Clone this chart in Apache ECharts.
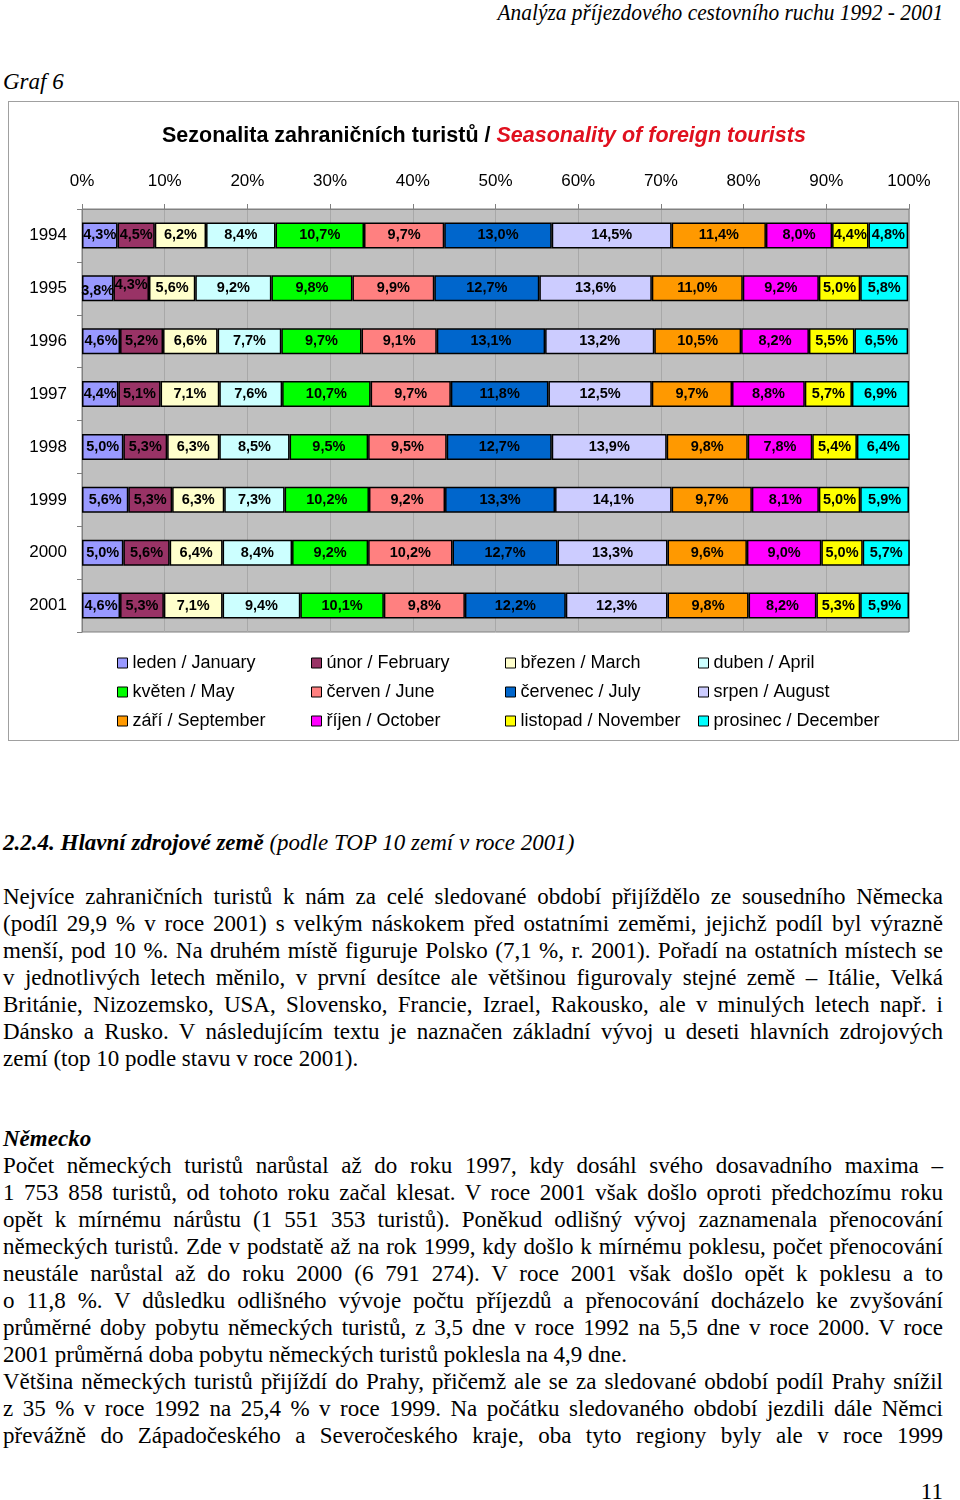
<!DOCTYPE html>
<html><head><meta charset="utf-8">
<script src="https://cdn.jsdelivr.net/npm/echarts@6/dist/echarts.min.js"></script>
<style>
html,body{margin:0;padding:0;background:#fff;}
body{width:960px;height:1500px;position:relative;overflow:hidden;font-family:"Liberation Serif","Times New Roman",serif;color:#000;}
.t{position:absolute;white-space:nowrap;font-size:23px;line-height:27px;height:27px;}
.j{left:3px;width:940px;}
#box{position:absolute;left:8px;top:101px;width:951px;height:640px;border:1px solid #a0a0a0;box-sizing:border-box;}
#chart{position:absolute;left:0;top:0;width:960px;height:760px;}
</style></head>
<body>
<div class="t" style="right:17px;top:-1px;font-style:italic;transform:scaleX(0.93);transform-origin:right center;">Analýza příjezdového cestovního ruchu 1992 - 2001</div>
<div class="t" style="left:3px;top:68px;font-style:italic;">Graf 6</div>
<div id="box"></div>
<div id="chart"></div>

<div class="t" style="left:3px;top:829px;font-style:italic;"><b>2.2.4. Hlavní zdrojové země</b> (podle TOP 10 zemí v roce 2001)</div>

<div class="t j" style="top:883px;"><span>Nejvíce zahraničních turistů k nám za celé sledované období přijíždělo ze sousedního Německa</span></div>
<div class="t j" style="top:910px;"><span>(podíl 29,9 % v roce 2001) s velkým náskokem před ostatními zeměmi, jejichž podíl byl výrazně</span></div>
<div class="t j" style="top:937px;"><span>menší, pod 10 %. Na druhém místě figuruje Polsko (7,1 %, r. 2001). Pořadí na ostatních místech se</span></div>
<div class="t j" style="top:964px;"><span>v jednotlivých letech měnilo, v první desítce ale většinou figurovaly stejné země – Itálie, Velká</span></div>
<div class="t j" style="top:991px;"><span>Británie, Nizozemsko, USA, Slovensko, Francie, Izrael, Rakousko, ale v minulých letech např. i</span></div>
<div class="t j" style="top:1018px;"><span>Dánsko a Rusko. V následujícím textu je naznačen základní vývoj u deseti hlavních zdrojových</span></div>
<div class="t" style="left:3px;top:1045px;"><span>zemí (top 10 podle stavu v roce 2001).</span></div>

<div class="t" style="left:3px;top:1125px;font-style:italic;font-weight:bold;">Německo</div>
<div class="t j" style="top:1152px;"><span>Počet německých turistů narůstal až do roku 1997, kdy dosáhl svého dosavadního maxima –</span></div>
<div class="t j" style="top:1179px;"><span>1 753 858 turistů, od tohoto roku začal klesat. V roce 2001 však došlo oproti předchozímu roku</span></div>
<div class="t j" style="top:1206px;"><span>opět k mírnému nárůstu (1 551 353 turistů). Poněkud odlišný vývoj zaznamenala přenocování</span></div>
<div class="t j" style="top:1233px;"><span>německých turistů. Zde v podstatě až na rok 1999, kdy došlo k mírnému poklesu, počet přenocování</span></div>
<div class="t j" style="top:1260px;"><span>neustále narůstal až do roku 2000 (6 791 274). V roce 2001 však došlo opět k poklesu a to</span></div>
<div class="t j" style="top:1287px;"><span>o 11,8 %. V důsledku odlišného vývoje počtu příjezdů a přenocování docházelo ke zvyšování</span></div>
<div class="t j" style="top:1314px;"><span>průměrné doby pobytu německých turistů, z 3,5 dne v roce 1992 na 5,5 dne v roce 2000. V roce</span></div>
<div class="t" style="left:3px;top:1341px;"><span>2001 průměrná doba pobytu německých turistů poklesla na 4,9 dne.</span></div>
<div class="t j" style="top:1368px;"><span>Většina německých turistů přijíždí do Prahy, přičemž ale se za sledované období podíl Prahy snížil</span></div>
<div class="t j" style="top:1395px;"><span>z 35 % v roce 1992 na 25,4 % v roce 1999. Na počátku sledovaného období jezdili dále Němci</span></div>
<div class="t j" style="top:1422px;"><span>převážně do Západočeského a Severočeského kraje, oba tyto regiony byly ale v roce 1999</span></div>

<div class="t" style="right:17px;top:1478px;">11</div>

<script>
// ---- data ----
const years = ['1994','1995','1996','1997','1998','1999','2000','2001'];
const monthNames = ['leden / January','únor / February','březen / March','duben / April',
  'květen / May','červen / June','červenec / July','srpen / August',
  'září / September','říjen / October','listopad / November','prosinec / December'];
const xTicks = ['0%','10%','20%','30%','40%','50%','60%','70%','80%','90%','100%'];
const jan = [4.3,3.8,4.6,4.4,5.0,5.6,5.0,4.6];
const feb = [4.5,4.3,5.2,5.1,5.3,5.3,5.6,5.3];
const mar = [6.2,5.6,6.6,7.1,6.3,6.3,6.4,7.1];
const apr = [8.4,9.2,7.7,7.6,8.5,7.3,8.4,9.4];
const may = [10.7,9.8,9.7,10.7,9.5,10.2,9.2,10.1];
const jun = [9.7,9.9,9.1,9.7,9.5,9.2,10.2,9.8];
const jul = [13.0,12.7,13.1,11.8,12.7,13.3,12.7,12.2];
const aug = [14.5,13.6,13.2,12.5,13.9,14.1,13.3,12.3];
const sep = [11.4,11.0,10.5,9.7,9.8,9.7,9.6,9.8];
const oct = [8.0,9.2,8.2,8.8,7.8,8.1,9.0,8.2];
const nov = [4.4,5.0,5.5,5.7,5.4,5.0,5.0,5.3];
const dec = [4.8,5.8,6.5,6.9,6.4,5.9,5.7,5.9];

const monthValues = [jan,feb,mar,apr,may,jun,jul,aug,sep,oct,nov,dec];
const colors = ['#9999ff','#993366','#ffffcc','#ccffff','#00ff00','#ff8080',
  '#0066cc','#ccccff','#ff9900','#ff00ff','#ffff00','#00ffff'];

// ---- justify body lines ----
document.querySelectorAll('.j').forEach(el => {
  const span = el.querySelector('span');
  const w = span.getBoundingClientRect().width;
  const n = (span.textContent.match(/ /g) || []).length;
  if (n) span.style.wordSpacing = ((940 - w) / n) + 'px';
});

const SANS = '"Liberation Sans", Arial, sans-serif';
const chart = echarts.init(document.getElementById('chart'), null, {renderer:'canvas'});

const series = monthNames.map((name, i) => ({
  name: name,
  type: 'bar',
  stack: 'total',
  barWidth: 26,
  itemStyle: {color: colors[i], borderColor: '#000', borderWidth: 1.5},
  label: {
    show: true, position: 'inside', color: '#000', fontFamily: SANS,
    fontWeight: 'bold', fontSize: 14.5,
    formatter: p => p.value.toFixed(1).replace('.', ',') + '%'
  },
  data: monthValues[i].map((v, k) => {
    const d = {value: v};
    if (k === 1 && i === 0) d.label = {offset: [0, 3]};
    if (k === 1 && i === 1) d.label = {offset: [0, -3]};
    return d;
  })
}));

const cols = [117, 311, 505, 698];
const legends = cols.map((x, c) => ({
  orient: 'vertical',
  left: x, top: 654,
  padding: 0,
  itemGap: 11,
  itemWidth: 10, itemHeight: 10,
  icon: 'rect',
  itemStyle: {borderColor: '#000', borderWidth: 1},
  textStyle: {fontFamily: SANS, fontSize: 18, color: '#000', lineHeight: 18},
  data: [monthNames[c], monthNames[c + 4], monthNames[c + 8]],
  selectedMode: false
}));

chart.setOption({
  animation: false,
  title: {
    left: 162, top: 125, padding: 0,
    text: '{a|Sezonalita zahraničních turistů / }{b|Seasonality of foreign tourists}',
    textStyle: {
      rich: {
        a: {fontFamily: SANS, fontSize: 21.5, fontWeight: 'bold', color: '#000'},
        b: {fontFamily: SANS, fontSize: 21.5, fontWeight: 'bold', fontStyle: 'italic', color: '#e0101e'}
      }
    }
  },
  legend: legends,
  grid: {
    left: 82, top: 209, width: 827, height: 423,
    show: true, backgroundColor: '#c0c0c0', borderColor: '#808080', borderWidth: 1
  },
  xAxis: {
    type: 'value', position: 'top', min: 0, max: 100, interval: 10,
    axisLine: {show: true, lineStyle: {color: '#808080'}},
    axisTick: {show: true, length: 5, lineStyle: {color: '#808080'}},
    splitLine: {show: true, lineStyle: {color: '#a8a8a8', width: 1}},
    axisLabel: {
      fontFamily: SANS, fontSize: 17, color: '#000', margin: 19,
      formatter: v => xTicks[Math.round(v / 10)]
    }
  },
  yAxis: {
    type: 'category', data: years, inverse: true,
    axisLine: {show: true, lineStyle: {color: '#808080'}},
    axisTick: {show: true, length: 5, lineStyle: {color: '#808080'}},
    axisLabel: {fontFamily: SANS, fontSize: 17, color: '#000', margin: 15}
  },
  series: series
});
</script>
</body></html>
